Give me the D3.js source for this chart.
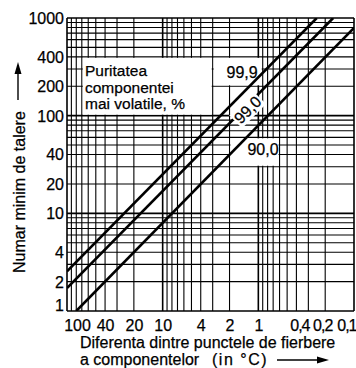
<!DOCTYPE html>
<html>
<head>
<meta charset="utf-8">
<script src="https://cdn.jsdelivr.net/npm/d3@7"></script>
<style>
  body { margin: 0; background: #fff; }
  svg { display: block; font-family: "Liberation Sans", Arial, sans-serif; }
  text { stroke: #000; stroke-width: 0.25px; }
</style>
</head>
<body>
<svg id="chart" width="356" height="368"></svg>
<script>
// purity of the more volatile component, %
const purities = ["99,9", "99,0", "90,0"];
// boiling point difference (°C) at the two ends of each line
const tempDiff = [[100, 0.245], [100, 0.165], [80, 0.1]];
// minimum number of plates at those ends
const minPlates = [[2.55, 1000], [1.72, 1000], [1, 790]];

const xTickValues = [100, 40, 20, 10, 4, 2, 1, 0.4, 0.2, 0.1];
const xTickLabels = ["100", "40", "20", "10", "4", "2", "1", "0,4", "0,2", "0,1"];
const yTickValues = [1000, 400, 200, 100, 40, 20, 10, 4, 2, 1];
const yTickLabels = ["1000", "400", "200", "100", "40", "20", "10", "4", "2", "1"];

const margin = { top: 18, right: 2, bottom: 57, left: 67 };
const width = 356 - margin.left - margin.right;
const height = 368 - margin.top - margin.bottom;

const svg = d3.select('#chart');
const g = svg.append('g')
  .attr('transform', 'translate(' + margin.left + ',' + margin.top + ')');

const x = d3.scaleLog().domain([100, 0.1]).range([0, width]);
const y = d3.scaleLog().domain([1, 1000]).range([height, 0]);

const isDecade = v => Math.abs(Math.log10(v) - Math.round(Math.log10(v))) < 1e-9;

// log grid
g.append('g').selectAll('line')
  .data(x.ticks())
  .join('line')
  .attr('x1', d => x(d)).attr('x2', d => x(d))
  .attr('y1', 0).attr('y2', height)
  .attr('stroke', '#000')
  .attr('stroke-width', d => isDecade(d) ? 1.6 : 1.1);

g.append('g').selectAll('line')
  .data(y.ticks())
  .join('line')
  .attr('x1', 0).attr('x2', width)
  .attr('y1', d => y(d)).attr('y2', d => y(d))
  .attr('stroke', '#000')
  .attr('stroke-width', d => isDecade(d) ? 1.6 : 1.1);

// white label boxes cut out of the grid
const box = (t0, t1, n0, n1) => g.append('rect')
  .attr('x', x(t0) + 1).attr('y', y(n0) + 1)
  .attr('width', x(t1) - x(t0) - 2).attr('height', y(n1) - y(n0) - 2)
  .attr('fill', '#fff');
box(70, 3, 400, 100);
box(3, 0.9, 400, 200);
box(2, 0.6, 60, 30);

// lines
svg.append('clipPath').attr('id', 'plot-clip')
  .append('rect').attr('width', width).attr('height', height);

const line = d3.line()
  .x(d => x(d[0]))
  .y(d => y(d[1]));

g.append('g')
  .attr('clip-path', 'url(#plot-clip)')
  .selectAll('path')
  .data(purities.map((p, i) => tempDiff[i].map((t, j) => [t, minPlates[i][j]])))
  .join('path')
  .attr('d', line)
  .attr('fill', 'none')
  .attr('stroke', '#000')
  .attr('stroke-width', 2.6);

// line labels
g.append('text')
  .attr('x', x(2.15)).attr('y', y(400) + 21)
  .attr('font-size', 16)
  .text(purities[0]);

const p0 = [x(tempDiff[1][0]), y(minPlates[1][0])];
const p1 = [x(tempDiff[1][1]), y(minPlates[1][1])];
const t = 0.66;
const angle = Math.atan2(p1[1] - p0[1], p1[0] - p0[0]) * 180 / Math.PI;
const mid = g.append('g')
  .attr('transform', 'translate(' + (p0[0] + t * (p1[0] - p0[0]) + 5) + ',' + (p0[1] + t * (p1[1] - p0[1])) + ') rotate(' + angle + ')');
mid.append('rect')
  .attr('x', -17).attr('y', -9).attr('width', 34).attr('height', 18)
  .attr('fill', '#fff');
mid.append('text')
  .attr('text-anchor', 'middle')
  .attr('dy', '0.35em')
  .attr('font-size', 16)
  .text(purities[1]);

g.append('text')
  .attr('x', x(1.3)).attr('y', y(40))
  .attr('font-size', 16)
  .text(purities[2]);

// legend title
const legend = g.append('text')
  .attr('font-size', 15.5);
['Puritatea', 'componentei', 'mai volatile, %'].forEach((s, i) => {
  legend.append('tspan')
    .attr('x', 18).attr('y', 58 + i * 16.5)
    .text(s);
});

// axes
const xAxis = g.append('g')
  .attr('transform', 'translate(0,' + height + ')')
  .call(d3.axisBottom(x).tickValues(xTickValues).tickSize(0)
    .tickFormat((d, i) => xTickLabels[i]));
xAxis.select('.domain').remove();
const lastX = xTickValues.length - 1;
const xShift = { 0: 10, 7: 3, 8: -3, 9: 2 };
xAxis.selectAll('text')
  .attr('font-size', 16)
  .attr('font-family', null)
  .attr('fill', '#000')
  .attr('y', 9)
  .attr('letter-spacing', (d, i) => i >= 7 ? -1 : null)
  .attr('text-anchor', (d, i) => i === lastX ? 'end' : 'middle')
  .attr('dx', (d, i) => xShift[i] || 0);

const yAxis = g.append('g')
  .call(d3.axisLeft(y).tickValues(yTickValues).tickSize(0)
    .tickFormat((d, i) => yTickLabels[i]));
yAxis.select('.domain').remove();
yAxis.selectAll('text')
  .attr('font-size', 16)
  .attr('font-family', null)
  .attr('fill', '#000')
  .attr('x', -3)
  .attr('dy', (d, i) => i === yTickValues.length - 1 ? '-0.05em' : '0.34em');

// axis titles
svg.append('text')
  .attr('transform', 'translate(25,273) rotate(-90)')
  .attr('font-size', 16)
  .text('Numar minim de talere');
svg.append('line')
  .attr('x1', 18).attr('x2', 18).attr('y1', 100).attr('y2', 72)
  .attr('stroke', '#000').attr('stroke-width', 1.4);
svg.append('path')
  .attr('d', 'M18,62 L14.5,74 L21.5,74 Z')
  .attr('fill', '#000');

svg.append('text')
  .attr('x', 80).attr('y', 348)
  .attr('font-size', 16)
  .text('Diferenta dintre punctele de fierbere');
const t2 = svg.append('text')
  .attr('x', 80).attr('y', 365)
  .attr('font-size', 16);
t2.append('tspan').text('a componentelor');
t2.append('tspan').attr('x', 212).attr('letter-spacing', 1.5).text('(in °C)');
svg.append('line')
  .attr('x1', 277).attr('x2', 320).attr('y1', 360).attr('y2', 360)
  .attr('stroke', '#000').attr('stroke-width', 1.4);
svg.append('path')
  .attr('d', 'M329,360 L317,356.5 L317,363.5 Z')
  .attr('fill', '#000');
</script>
</body>
</html>
